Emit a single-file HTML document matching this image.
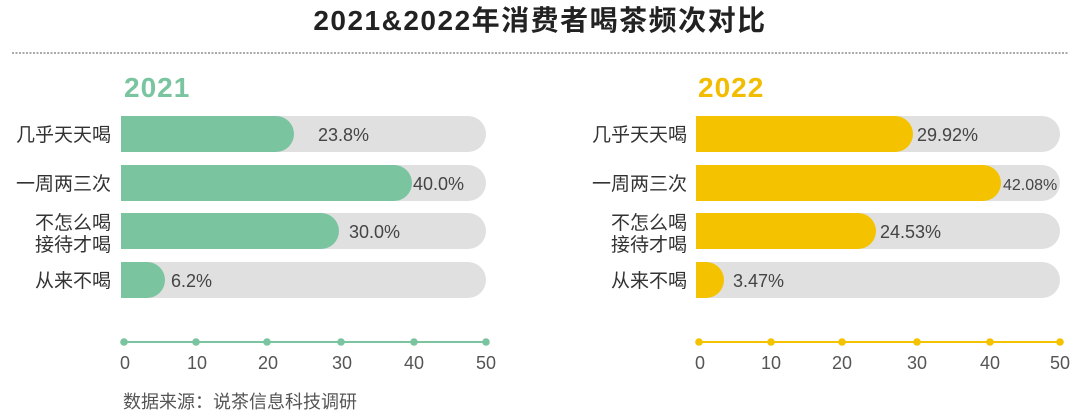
<!DOCTYPE html>
<html><head><meta charset="utf-8"><style>
body{margin:0;background:#fff}
svg{display:block}
text{font-family:"Liberation Sans","Noto Sans CJK SC",sans-serif}
</style></head><body>
<svg width="1080" height="417" viewBox="0 0 1080 417">
<text x="540" y="30" text-anchor="middle" font-size="28" font-weight="bold" fill="#222" letter-spacing="1.5">2021&amp;2022年消费者喝茶频次对比</text>
<line x1="12" y1="53" x2="1068" y2="53" stroke="#777" stroke-width="1.3" stroke-dasharray="2,1.5"/>
<text x="124" y="97" font-size="28" font-weight="bold" fill="#7bc4a0" letter-spacing="1">2021</text>
<text x="698" y="97" font-size="28" font-weight="bold" fill="#f2bd00" letter-spacing="1">2022</text>
<g font-size="19" fill="#333" text-anchor="end">
<text x="111" y="141">几乎天天喝</text>
<text x="111" y="190">一周两三次</text>
<text x="111" y="229">不怎么喝</text>
<text x="111" y="251">接待才喝</text>
<text x="111" y="287">从来不喝</text>
<text x="687" y="141">几乎天天喝</text>
<text x="687" y="190">一周两三次</text>
<text x="687" y="229">不怎么喝</text>
<text x="687" y="251">接待才喝</text>
<text x="687" y="287">从来不喝</text>
</g>
<g fill="#e0e0e0">
<path d="M121 116H468a18 18 0 0 1 0 36H121z"/>
<path d="M121 165H468a18 18 0 0 1 0 36H121z"/>
<path d="M121 213H468a18 18 0 0 1 0 36H121z"/>
<path d="M121 262H468a18 18 0 0 1 0 36H121z"/>
<path d="M696 116H1042a18 18 0 0 1 0 36H696z"/>
<path d="M696 165H1042a18 18 0 0 1 0 36H696z"/>
<path d="M696 213H1042a18 18 0 0 1 0 36H696z"/>
<path d="M696 262H1042a18 18 0 0 1 0 36H696z"/>
</g>
<g fill="#7bc4a0">
<path d="M121 116H276a18 18 0 0 1 0 36H121z"/>
<path d="M121 165H394a18 18 0 0 1 0 36H121z"/>
<path d="M121 213H321a18 18 0 0 1 0 36H121z"/>
<path d="M121 262H147a18 18 0 0 1 0 36H121z"/>
</g>
<g fill="#f5c200">
<path d="M696 116H895a18 18 0 0 1 0 36H696z"/>
<path d="M696 165H983a18 18 0 0 1 0 36H696z"/>
<path d="M696 213H858a18 18 0 0 1 0 36H696z"/>
<path d="M696 262H706a18 18 0 0 1 0 36H696z"/>
</g>
<g font-size="18" fill="#444">
<text x="318" y="141">23.8%</text>
<text x="413" y="190">40.0%</text>
<text x="349" y="238">30.0%</text>
<text x="171" y="287">6.2%</text>
<text x="917" y="141">29.92%</text>
<text x="1003" y="190" font-size="16">42.08%</text>
<text x="880" y="238">24.53%</text>
<text x="733" y="287">3.47%</text>
</g>
<line x1="124" y1="342" x2="486" y2="342" stroke="#7bc4a0" stroke-width="2"/>
<g fill="#7bc4a0"><circle cx="124" cy="342" r="3.8"/><circle cx="196" cy="342" r="3.8"/><circle cx="267" cy="342" r="3.8"/><circle cx="341" cy="342" r="3.8"/><circle cx="414" cy="342" r="3.8"/><circle cx="486" cy="342" r="3.8"/></g>
<line x1="699" y1="342" x2="1060" y2="342" stroke="#f5c200" stroke-width="2"/>
<g fill="#f5c200"><circle cx="699" cy="342" r="3.8"/><circle cx="771" cy="342" r="3.8"/><circle cx="842" cy="342" r="3.8"/><circle cx="917" cy="342" r="3.8"/><circle cx="990" cy="342" r="3.8"/><circle cx="1060" cy="342" r="3.8"/></g>
<g font-size="18" fill="#555" text-anchor="middle">
<text x="125" y="369">0</text><text x="197" y="369">10</text><text x="268" y="369">20</text><text x="342" y="369">30</text><text x="414" y="369">40</text><text x="486" y="369">50</text>
<text x="700" y="369">0</text><text x="771" y="369">10</text><text x="842" y="369">20</text><text x="917" y="369">30</text><text x="990" y="369">40</text><text x="1060" y="369">50</text>
</g>
<text x="123" y="408" font-size="18" fill="#555">数据来源：说茶信息科技调研</text>
</svg>
</body></html>
